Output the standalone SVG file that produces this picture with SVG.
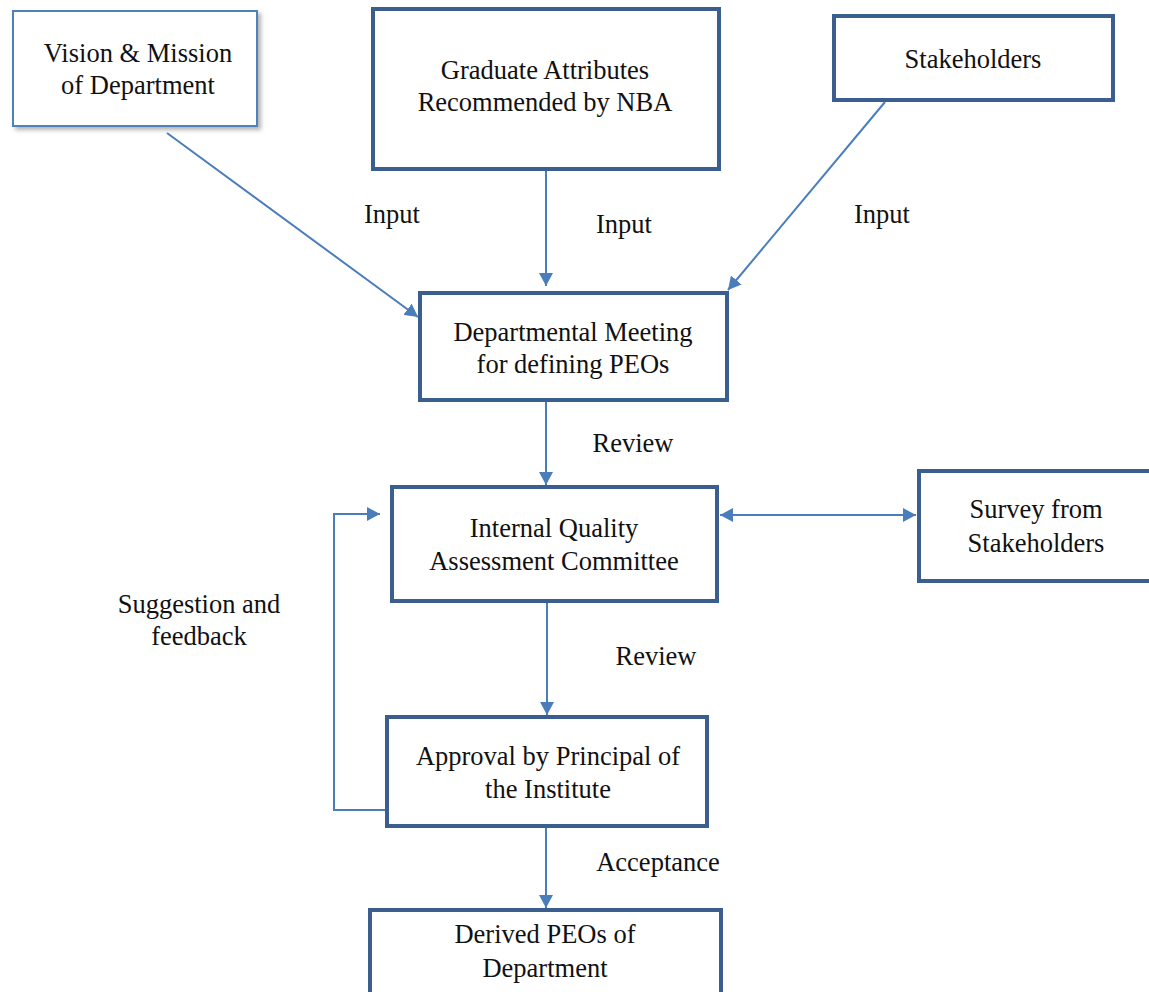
<svg xmlns="http://www.w3.org/2000/svg" width="1149" height="992" viewBox="0 0 1149 992">
  <style>
    .box { fill: #ffffff; stroke: #3A5F8E; stroke-width: 4; }
    .box-thin { fill: #ffffff; stroke: #4F81BD; stroke-width: 2; }
    .label { font-family: "Liberation Serif", "Times New Roman", serif; font-size: 26.5px; fill: #111111; text-anchor: middle; }
    .conn { fill: none; stroke: #4A7EBB; stroke-width: 2; }
  </style>
  <defs>
    <marker id="arrow" markerUnits="userSpaceOnUse" markerWidth="14" markerHeight="14" refX="13" refY="7" orient="auto-start-reverse">
      <path d="M0,0 L13,7 L0,14 z" fill="#4A7EBB"/>
    </marker>
    <filter id="shadow" x="-10%" y="-10%" width="125%" height="130%">
      <feDropShadow dx="3" dy="3" stdDeviation="2" flood-color="#808080" flood-opacity="0.6"/>
    </filter>
  </defs>

  <rect width="1149" height="992" fill="#ffffff"/>

  <!-- connectors -->
  <g id="connectors">
    <line class="conn" x1="167" y1="133" x2="418" y2="317" marker-end="url(#arrow)"/>
    <line class="conn" x1="546" y1="171" x2="546" y2="286" marker-end="url(#arrow)"/>
    <line class="conn" x1="885" y1="102" x2="728" y2="290" marker-end="url(#arrow)"/>
    <line class="conn" x1="546" y1="402" x2="546" y2="485" marker-end="url(#arrow)"/>
    <line class="conn" x1="720" y1="515" x2="916" y2="515" marker-start="url(#arrow)" marker-end="url(#arrow)"/>
    <line class="conn" x1="547" y1="603" x2="547" y2="715" marker-end="url(#arrow)"/>
    <line class="conn" x1="546" y1="828" x2="546" y2="908" marker-end="url(#arrow)"/>
    <polyline class="conn" points="385,810 334,810 334,514 380,514" marker-end="url(#arrow)"/>

    <text class="label" x="392" y="223">Input</text>
    <text class="label" x="624" y="233">Input</text>
    <text class="label" x="882" y="223">Input</text>
    <text class="label" x="633" y="452">Review</text>
    <text class="label" x="656" y="665">Review</text>
    <text class="label" x="199" y="613">Suggestion and</text>
    <text class="label" x="199" y="645">feedback</text>
    <text class="label" x="658" y="871">Acceptance</text>
  </g>

  <!-- nodes -->
  <g id="vision">
    <rect class="box-thin" x="13" y="11" width="244" height="115" filter="url(#shadow)"/>
    <text class="label" x="138" y="62">Vision &amp; Mission</text>
    <text class="label" x="138" y="94">of Department</text>
  </g>

  <g id="graduate-attributes">
    <rect class="box" x="373" y="9" width="346" height="160"/>
    <text class="label" x="545" y="79">Graduate Attributes</text>
    <text class="label" x="545" y="111">Recommended by NBA</text>
  </g>

  <g id="stakeholders">
    <rect class="box" x="834" y="16" width="279" height="84"/>
    <text class="label" x="973" y="68">Stakeholders</text>
  </g>

  <g id="departmental-meeting">
    <rect class="box" x="420" y="293" width="307" height="107"/>
    <text class="label" x="573" y="341">Departmental Meeting</text>
    <text class="label" x="573" y="373">for defining PEOs</text>
  </g>

  <g id="iqac">
    <rect class="box" x="392" y="487" width="325" height="114"/>
    <text class="label" x="554" y="537">Internal Quality</text>
    <text class="label" x="554" y="570">Assessment Committee</text>
  </g>

  <g id="survey">
    <rect class="box" x="919" y="471" width="236" height="110"/>
    <text class="label" x="1036" y="518">Survey from</text>
    <text class="label" x="1036" y="552">Stakeholders</text>
  </g>

  <g id="approval">
    <rect class="box" x="387" y="717" width="320" height="109"/>
    <text class="label" x="548" y="765">Approval by Principal of</text>
    <text class="label" x="548" y="798">the Institute</text>
  </g>

  <g id="derived-peos">
    <rect class="box" x="370" y="910" width="351" height="86"/>
    <text class="label" x="545" y="943">Derived PEOs of</text>
    <text class="label" x="545" y="977">Department</text>
  </g>
</svg>
